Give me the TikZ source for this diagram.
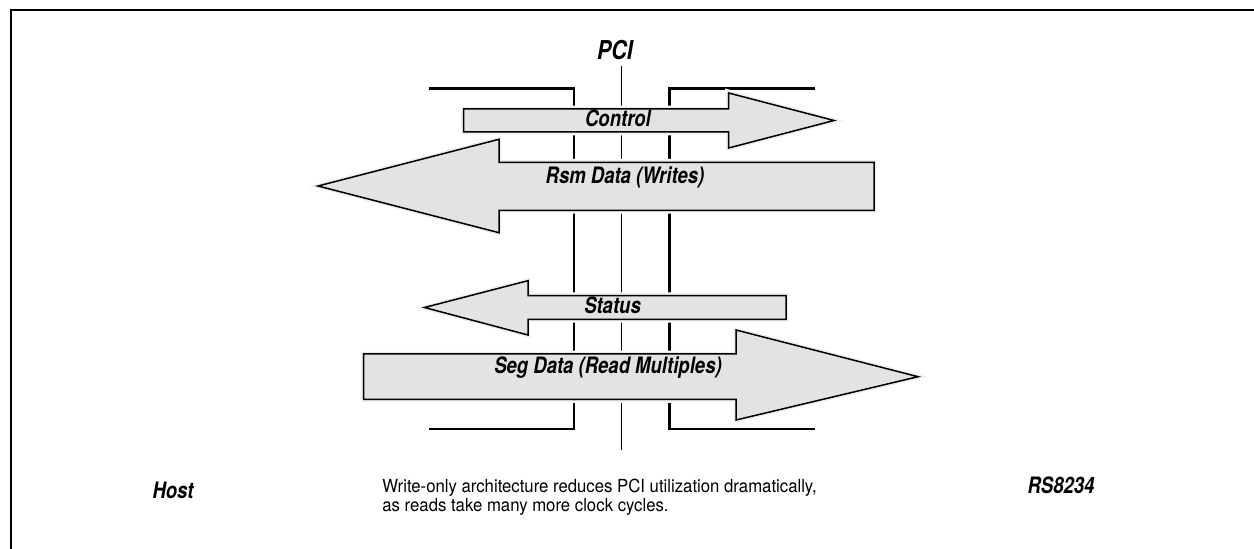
\documentclass[tikz,border=0pt]{standalone}
\usepackage{fontspec}
\newfontfamily\narrow{TeX Gyre Heros}[FakeStretch=0.82]
\newfontfamily\notefont{TeX Gyre Heros}[FakeStretch=0.93]
\definecolor{arrowfill}{gray}{0.89}
\definecolor{arrowhalo}{gray}{0.93}
\tikzset{
  lbl/.style={font=\narrow\bfseries\itshape\fontsize{11.3}{13}\selectfont, inner sep=0pt, anchor=base},
  biglbl/.style={lbl, font=\narrow\bfseries\itshape\fontsize{13}{15}\selectfont},
  capt/.style={font=\notefont\fontsize{9}{7.2}\selectfont, align=left, inner sep=0pt, anchor=north west},
  framerule/.style={line width=1pt},
  bracket/.style={line width=1.1pt, line join=miter},
  busline/.style={line width=0.5pt},
  flow/.style={fill=arrowfill, draw=black, line width=0.75pt, line join=miter,
    preaction={draw=white, line width=3.4pt},
    preaction={draw=arrowhalo, line width=2.2pt}},
}
\begin{document}
\begin{tikzpicture}[x=0.5pt,y=-0.5pt]
\useasboundingbox (0,0) rectangle (1254,549);

% outer frame (open to the right and bottom)
\draw[framerule] (11,549) -- (11,10) -- (1254,10);

% host-side and device-side interface brackets, PCI bus in the middle
\draw[bracket] (429,88.5) -- (574,88.5) -- (574,429.3) -- (429,429.3);
\draw[bracket] (815,88.5) -- (669.5,88.5) -- (669.5,429.3) -- (815,429.3);
\draw[busline] (621,66) -- (621,450);

% transfer arrows
\draw[flow] (463.6,109) -- (728.6,109) -- (728.6,93) -- (834,120.5)
  -- (728.6,148) -- (728.6,132) -- (463.6,132) -- cycle;
\draw[flow] (874,162.3) -- (499,162.3) -- (499,139.3) -- (318,186)
  -- (499,232.7) -- (499,210.3) -- (874,210.3) -- cycle;
\draw[flow] (786,295.7) -- (528,295.7) -- (528,280.7) -- (424.5,307.5)
  -- (528,335) -- (528,319.3) -- (786,319.3) -- cycle;
\draw[flow] (363.5,354) -- (736,354) -- (736,330) -- (918,376.7)
  -- (736,420) -- (736,399.5) -- (363.5,399.5) -- cycle;

% labels
\node[biglbl] (pci) at (615,60) {PCI};
\node[lbl] (ctrl) at (618,127) {Control};
\node[lbl] (rsm) at (625,183.5) {Rsm Data (Writes)};
\node[lbl] (stat) at (612.6,313.5) {Status};
\node[lbl] (seg) at (608,373.5) {Seg Data (Read Multiples)};
\node[lbl] (host) at (173,499) {Host};
\node[lbl] (dev) at (1061,494) {RS8234};
\node[capt] (note) at (382,478.5) {Write-only architecture reduces PCI utilization dramatically,\\as reads take many more clock cycles.};
\end{tikzpicture}
\end{document}
